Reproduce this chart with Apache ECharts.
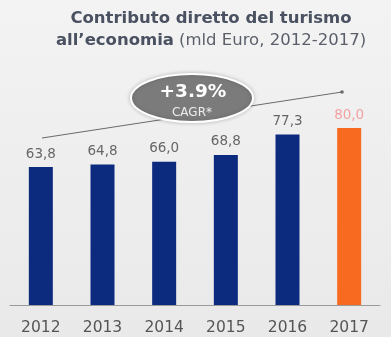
<!DOCTYPE html>
<html><head><meta charset="utf-8">
<script src="https://cdn.jsdelivr.net/npm/echarts@6/dist/echarts.min.js"></script>
<style>html,body{margin:0;padding:0;background:#eeeeee;}#c{width:391px;height:337px;}</style>
</head><body><div id="c"></div>
<script>
const categories = ['2012','2013','2014','2015','2016','2017'];
const values = [63.8, 64.8, 66.0, 68.8, 77.3, 80.0];
const cagrText = '+3.9%';
const cagrSub = 'CAGR*';

const chart = echarts.init(document.getElementById('c'));
const fmt = v => v.toFixed(1).replace('.', ',');
chart.setOption({
  backgroundColor: new echarts.graphic.LinearGradient(0, 0, 0, 1, [
    { offset: 0, color: '#f3f3f3' }, { offset: 1, color: '#e9e9e9' }
  ]),
  animation: false,
  title: {
    left: 206, top: 3, textAlign: 'center',
    text: '{b|Contributo diretto del turismo}\n{b|all\u2019economia} {n|(mld Euro, 2012-2017)}',
    textStyle: {
      rich: {
        b: { fontFamily: 'DejaVu Sans', fontWeight: 'bold', fontSize: 16.5, color: '#4a5161', lineHeight: 22 },
        n: { fontFamily: 'DejaVu Sans', fontWeight: 'normal', fontSize: 16.5, color: '#5a5f6a', lineHeight: 22 }
      }
    }
  },
  grid: { left: 10, right: 11, top: 128, bottom: 32 },
  xAxis: {
    type: 'category', data: categories,
    axisLine: { lineStyle: { color: '#9a9a9a', width: 1 } },
    axisTick: { show: false },
    axisLabel: { color: '#555555', fontFamily: 'DejaVu Sans', fontSize: 15.5, margin: 15 }
  },
  yAxis: { type: 'value', min: 6.5, max: 80, show: false, splitLine: { show: false } },
  series: [{
    type: 'bar', barWidth: 24,
    data: values.map((v, i) => ({
      value: v,
      itemStyle: { color: i === values.length - 1 ? '#f86a20' : '#0c2a7e' },
      label: { color: i === values.length - 1 ? '#f2a2a2' : '#666666' }
    })),
    label: {
      show: true, position: 'top', distance: 6,
      fontFamily: 'DejaVu Sans', fontSize: 13.5,
      formatter: p => fmt(p.value)
    }
  }],
  graphic: [
    { type: 'polyline', shape: { points: [[42, 138], [342, 92]] }, style: { stroke: '#6a6a6a', lineWidth: 1, fill: null }, z: 1 },
    { type: 'circle', shape: { cx: 342, cy: 92, r: 1.8 }, style: { fill: '#6a6a6a' }, z: 1 },
    { type: 'ellipse', shape: { cx: 192, cy: 98, rx: 61, ry: 24 }, style: { fill: '#7b7b7b', stroke: '#ffffff', lineWidth: 2, shadowBlur: 4, shadowColor: 'rgba(0,0,0,0.2)' }, z: 5 },
    { type: 'text', x: 193, y: 92, z: 6, style: { text: cagrText, fill: '#ffffff', font: 'bold 18.5px "DejaVu Sans"', align: 'center', verticalAlign: 'middle' } },
    { type: 'text', x: 192, y: 113, z: 6, style: { text: cagrSub, fill: '#eeeeee', font: '12px "DejaVu Sans"', align: 'center', verticalAlign: 'middle' } }
  ]
});
</script></body></html>
